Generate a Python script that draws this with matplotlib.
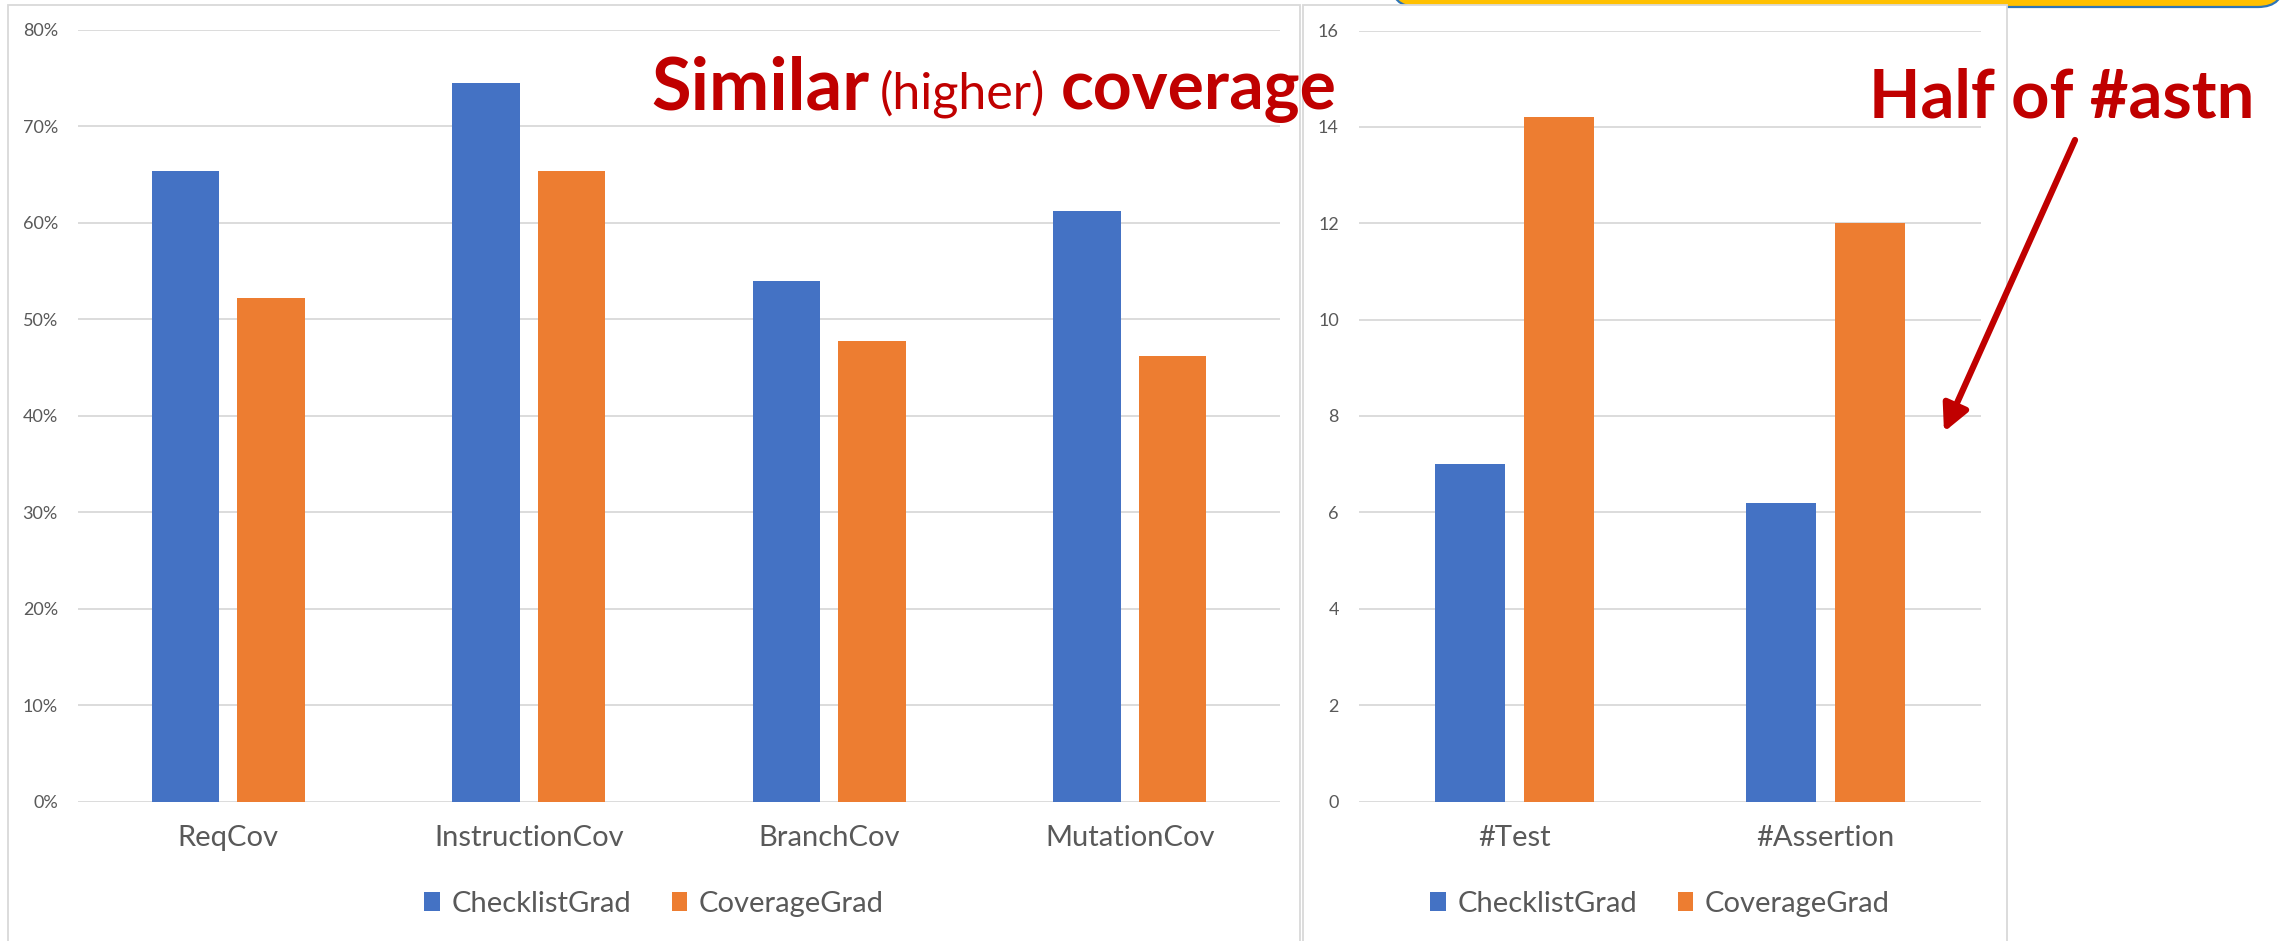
import matplotlib
matplotlib.use("Agg")
import matplotlib.pyplot as plt
from matplotlib.patches import Rectangle, FancyBboxPatch, FancyArrowPatch
from matplotlib.ticker import PercentFormatter
from matplotlib.transforms import Affine2D
import numpy as np

# ---- data -------------------------------------------------------------
cov_categories = ["ReqCov", "InstructionCov", "BranchCov", "MutationCov"]
cov_checklist = [65.3, 74.5, 53.9, 61.2]      # percent
cov_coverage = [52.2, 65.3, 47.7, 46.2]       # percent

count_categories = ["#Test", "#Assertion"]
count_checklist = [7.0, 6.2]
count_coverage = [14.2, 12.0]

series_names = ["ChecklistGrad", "CoverageGrad"]
series_colors = ["#4472C4", "#ED7D31"]

# ---- style ------------------------------------------------------------
FONT = ["Lato", "DejaVu Sans"]
GRAY_TXT = "#595959"
GRID = "#D9D9D9"
RED = "#C00000"
plt.rcParams["font.family"] = FONT

W, H = 2285, 941
fig = plt.figure(figsize=(W / 100, H / 100), dpi=100)
# pixel coordinates, origin at the bottom-left of the figure
PX = Affine2D().scale(1 / 100.0) + fig.dpi_scale_trans


def fig_box(left, top, right, bottom):
    """Axes rectangle in figure fraction from pixel edges (y measured from top)."""
    return [left / W, 1 - bottom / H, (right - left) / W, (bottom - top) / H]


# ---- background panels --------------------------------------------------
banner = FancyBboxPatch((1391, H - 7), 2284 - 1391, 60,
                        boxstyle="round,pad=0,rounding_size=26",
                        transform=PX, facecolor="#FFC000", edgecolor="#2E75B6",
                        linewidth=1.6, zorder=-3)
fig.add_artist(banner)
for (x0, x1, top) in [(8, 1300, 4.5), (1303, 2007, 5)]:
    fig.add_artist(Rectangle((x0, -20), x1 - x0, H - top + 20, transform=PX,
                             facecolor="white", edgecolor=GRID,
                             linewidth=1.3, zorder=-2))

# bar geometry: two series, overlap -27 %, gap width 219 %
bar_w = 1 / 4.46
bar_gap = 0.27 / 4.46
offset = (bar_w + bar_gap) / 2


def draw_panel(ax, categories, a_vals, b_vals, ymax, ystep):
    x = np.arange(len(categories))
    ax.bar(x - offset, a_vals, bar_w, color=series_colors[0], label=series_names[0], zorder=2)
    ax.bar(x + offset, b_vals, bar_w, color=series_colors[1], label=series_names[1], zorder=2)
    ax.set_xlim(-0.5, len(categories) - 0.5)
    ax.set_ylim(0, ymax)
    ax.set_yticks(np.arange(0, ymax + ystep / 2, ystep))
    ax.set_xticks(x, categories)
    ax.set_facecolor("none")
    for s in ax.spines.values():
        s.set_visible(False)
    ax.yaxis.grid(True, color=GRID, linewidth=1.3)
    ax.set_axisbelow(True)
    ax.tick_params(axis="y", length=0, pad=14.5, labelsize=13, labelcolor=GRAY_TXT)
    ax.tick_params(axis="x", length=0, pad=17, labelsize=21, labelcolor=GRAY_TXT)


ax1 = fig.add_axes(fig_box(78, 29.5, 1280, 801.5))
draw_panel(ax1, cov_categories, cov_checklist, cov_coverage, 80, 10)
ax1.yaxis.set_major_formatter(PercentFormatter(decimals=0))

ax2 = fig.add_axes(fig_box(1359, 30.5, 1981, 801.5))
draw_panel(ax2, count_categories, count_checklist, count_coverage, 16, 2)

for ax, cx in [(ax1, 654), (ax2, 1660)]:
    ax.legend(loc="center", bbox_to_anchor=(cx / W, 1 - 904 / H),
              bbox_transform=fig.transFigure, ncol=2, frameon=False,
              fontsize=21, labelcolor=GRAY_TXT, handlelength=0.52,
              handleheight=0.6, handletextpad=0.4, columnspacing=1.4)

# ---- callouts ---------------------------------------------------------
renderer = fig.canvas.get_renderer()


def fitted_text(s, left, right, baseline, weight, size0=50):
    t = fig.text(left, H - baseline, s, transform=PX, fontsize=size0,
                 fontweight=weight, color=RED, ha="left", va="baseline",
                 zorder=5)
    width = t.get_window_extent(renderer).width
    t.set_fontsize(size0 * (right - left) / width)
    return t


fitted_text("Similar", 651, 870, 109, "bold")
fitted_text("(higher)", 880, 1045, 109, "normal", 35)
fitted_text("coverage", 1061, 1338, 109, "bold")
fitted_text("Half of #astn", 1869, 2255, 118, "bold")

arrow = FancyArrowPatch((2075, H - 140), (1944, H - 432), transform=PX,
                        arrowstyle="-|>,head_length=0.4,head_width=0.2",
                        mutation_scale=40, color=RED, linewidth=4.5,
                        shrinkA=0, shrinkB=0, zorder=5)
fig.add_artist(arrow)

fig.savefig("out.png", dpi=100)
